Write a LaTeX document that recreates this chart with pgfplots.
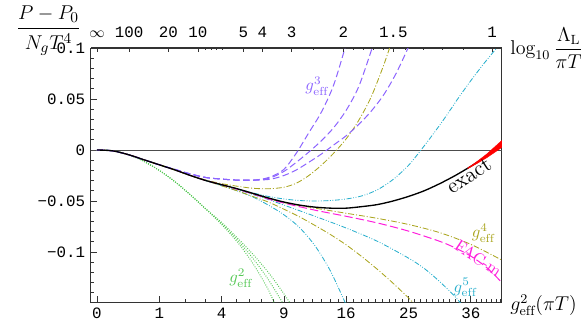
\documentclass[border=0pt]{standalone}
\usepackage{pgfplots}
\pgfplotsset{compat=1.18}
\usepackage{fontspec}
\newfontfamily\tickfont{Liberation Mono}
\definecolor{cpurple}{RGB}{140,100,255}
\definecolor{colive}{RGB}{170,165,30}
\definecolor{ccyan}{RGB}{40,175,205}
\definecolor{cmag}{RGB}{255,30,220}
\definecolor{cgreen}{RGB}{85,200,85}
\begin{document}
\begin{tikzpicture}
\pgfplotsset{
  common/.style={
    scale only axis, width=246.6pt, height=152.4pt,
    xmin=-0.0963, xmax=6.5, ymin=-0.149, ymax=0.1,
    tick align=inside,
    ticklabel style={font=\tickfont\fontsize{9.5}{11}\selectfont},
    tick style={black!80, line width=0.5pt},
  }
}
\begin{axis}[common,
  clip mode=individual,
  axis line style={draw=black!80, line width=0.6pt},
  xtick={0,1,2,3,4,5,6}, xticklabels={0,1,4,9,16,25,36},
  minor xtick={1.41421,1.73205,2.23607,2.44949,2.64575,2.82843,3.16228,3.31662,3.46410,3.60555,3.74166,3.87298,4.12311,4.24264,4.35890,4.47214,4.58258,4.69042,4.79583,4.89898,5.09902,5.19615,5.29150,5.38516,5.47723,5.56776,5.65685,5.74456,5.83095,5.91608,6.08276,6.16441,6.24500,6.32456,6.40312,6.48074},
  ytick={-0.1,-0.05,0,0.05,0.1}, yticklabels={−0.1,−0.05,0,0.05,0.1},
  minor ytick={-0.14,-0.13,-0.12,-0.11,-0.09,-0.08,-0.07,-0.06,-0.04,-0.03,-0.02,-0.01,0.01,0.02,0.03,0.04,0.06,0.07,0.08,0.09},
  xtick pos=bottom, ytick pos=left,
  major tick length=3.6pt, minor tick length=1.8pt,
]
% zero line
\addplot[black!70, line width=0.6pt] coordinates {(-0.0963,0)(6.5,0)};
% g^2 (green dotted)
\addplot[cgreen, line width=0.6pt, dash pattern=on 0.5pt off 0.9pt, smooth] coordinates {(0,0)(0.25,-0.0008)(0.5,-0.0045)(0.75,-0.011)(1.0,-0.020)(1.25,-0.031)(1.5,-0.044)(1.75,-0.058)(2.0,-0.073)(2.25,-0.090)(2.5,-0.111)(2.75,-0.137)(2.9,-0.158)};
\addplot[cgreen, line width=0.6pt, dash pattern=on 0.5pt off 0.9pt, smooth] coordinates {(0,0)(0.25,-0.0008)(0.5,-0.0045)(0.75,-0.011)(1.0,-0.020)(1.25,-0.031)(1.5,-0.044)(1.75,-0.058)(2.0,-0.072)(2.25,-0.088)(2.5,-0.106)(2.75,-0.127)(3.0,-0.152)};
\addplot[cgreen, line width=0.6pt, dash pattern=on 0.5pt off 0.9pt, smooth] coordinates {(0,0)(0.25,-0.0008)(0.5,-0.0045)(0.75,-0.011)(1.0,-0.020)(1.25,-0.031)(1.5,-0.044)(1.75,-0.058)(2.0,-0.071)(2.25,-0.086)(2.5,-0.102)(2.75,-0.120)(3.0,-0.141)(3.2,-0.160)};
% g^5 (cyan dash-dot-dot)
\addplot[ccyan, line width=0.5pt, dash pattern=on 3pt off 1pt on 0.5pt off 1pt on 0.5pt off 1pt, smooth] coordinates {(0,0)(0.25,-0.0008)(0.5,-0.0045)(0.75,-0.0095)(1.0,-0.0145)(1.25,-0.0195)(1.5,-0.025)(1.75,-0.030)(2.0,-0.034)(2.25,-0.038)(2.5,-0.042)(2.75,-0.0455)(3.0,-0.048)(3.25,-0.0495)(3.5,-0.050)(3.75,-0.0495)(4.0,-0.048)(4.25,-0.045)(4.5,-0.039)(4.75,-0.029)(5.0,-0.015)(5.2,0.0)(5.4,0.016)(5.6,0.033)(5.8,0.051)(6.0,0.068)(6.2,0.084)(6.4,0.099)(6.5,0.107)};
\addplot[ccyan, line width=0.5pt, dash pattern=on 3pt off 1pt on 0.5pt off 1pt on 0.5pt off 1pt, smooth] coordinates {(0,0)(0.25,-0.0008)(0.5,-0.0045)(0.75,-0.0095)(1.0,-0.0145)(1.25,-0.0195)(1.5,-0.025)(1.75,-0.030)(2.0,-0.035)(2.25,-0.040)(2.5,-0.046)(2.75,-0.054)(3.0,-0.0635)(3.25,-0.076)(3.5,-0.094)(3.75,-0.119)(4.0,-0.152)};
\addplot[ccyan, line width=0.5pt, dash pattern=on 3pt off 1pt on 0.5pt off 1pt on 0.5pt off 1pt, smooth] coordinates {(0,0)(0.25,-0.0008)(0.5,-0.0045)(0.75,-0.0095)(1.0,-0.0145)(1.25,-0.0195)(1.5,-0.025)(1.75,-0.030)(2.0,-0.034)(2.25,-0.0385)(2.5,-0.0435)(2.75,-0.0485)(3.0,-0.054)(3.5,-0.065)(4.0,-0.0765)(4.5,-0.0895)(5.0,-0.106)(5.25,-0.116)(5.5,-0.129)(5.75,-0.144)(5.9,-0.155)};
% g^4 (olive dash-dot)
\addplot[colive, line width=0.5pt, dash pattern=on 3.5pt off 1.2pt on 0.6pt off 1.2pt, smooth] coordinates {(0,0)(0.25,-0.0008)(0.5,-0.0045)(0.75,-0.0095)(1.0,-0.0145)(1.25,-0.0195)(1.5,-0.025)(1.75,-0.0295)(2.0,-0.033)(2.25,-0.0355)(2.5,-0.0375)(2.75,-0.038)(3.0,-0.0365)(3.2,-0.0325)(3.4,-0.025)(3.6,-0.015)(3.8,-0.003)(4.0,0.011)(4.2,0.029)(4.4,0.052)(4.6,0.083)(4.75,0.11)};
\addplot[colive, line width=0.5pt, dash pattern=on 3.5pt off 1.2pt on 0.6pt off 1.2pt, smooth] coordinates {(0,0)(0.25,-0.0008)(0.5,-0.0045)(0.75,-0.0095)(1.0,-0.0145)(1.25,-0.0195)(1.5,-0.025)(1.75,-0.030)(2.0,-0.034)(2.25,-0.038)(2.5,-0.043)(2.75,-0.0475)(3.0,-0.0515)(3.5,-0.057)(4.0,-0.062)(4.5,-0.067)(5.0,-0.073)(5.5,-0.081)(6.0,-0.0925)(6.5,-0.108)};
\addplot[colive, line width=0.5pt, dash pattern=on 3.5pt off 1.2pt on 0.6pt off 1.2pt, smooth] coordinates {(0,0)(0.25,-0.0008)(0.5,-0.0045)(0.75,-0.0095)(1.0,-0.0145)(1.25,-0.0195)(1.5,-0.025)(1.75,-0.030)(2.0,-0.035)(2.25,-0.040)(2.5,-0.0455)(2.75,-0.051)(3.0,-0.058)(3.25,-0.0655)(3.5,-0.074)(3.75,-0.083)(4.0,-0.093)(4.25,-0.1045)(4.5,-0.117)(4.75,-0.1305)(5.0,-0.145)(5.2,-0.158)};
% FAC-m (magenta dashed)
\addplot[cmag, line width=0.6pt, dash pattern=on 5pt off 2pt, smooth] coordinates {(0,0)(0.25,-0.0008)(0.5,-0.0045)(0.75,-0.0095)(1.0,-0.0145)(1.25,-0.0195)(1.5,-0.025)(1.75,-0.030)(2.0,-0.034)(2.25,-0.0385)(2.5,-0.043)(2.75,-0.048)(3.0,-0.052)(3.5,-0.059)(4.0,-0.065)(4.5,-0.0715)(5.0,-0.0795)(5.5,-0.0895)(5.75,-0.096)(6.0,-0.104)(6.25,-0.115)(6.5,-0.13)};
% g^3 (purple dashed)
\addplot[cpurple, line width=0.6pt, dash pattern=on 4pt off 2pt, smooth] coordinates {(0,0)(0.25,-0.0008)(0.5,-0.0045)(0.75,-0.0095)(1.0,-0.0145)(1.25,-0.019)(1.5,-0.0235)(1.75,-0.027)(2.0,-0.0285)(2.25,-0.0295)(2.5,-0.0295)(2.65,-0.0285)(2.8,-0.026)(3.0,-0.019)(3.2,-0.003)(3.4,0.017)(3.6,0.037)(3.8,0.064)(4.0,0.104)(4.05,0.115)};
\addplot[cpurple, line width=0.6pt, dash pattern=on 4pt off 2pt, smooth] coordinates {(0,0)(0.25,-0.0008)(0.5,-0.0045)(0.75,-0.0095)(1.0,-0.0145)(1.25,-0.019)(1.5,-0.0235)(1.75,-0.027)(2.0,-0.0285)(2.25,-0.0295)(2.5,-0.0295)(2.65,-0.029)(2.8,-0.027)(3.0,-0.021)(3.2,-0.012)(3.4,-0.002)(3.6,0.009)(3.8,0.022)(4.0,0.039)(4.2,0.062)(4.4,0.097)(4.5,0.115)};
\addplot[cpurple, line width=0.6pt, dash pattern=on 4pt off 2pt, smooth] coordinates {(0,0)(0.25,-0.0008)(0.5,-0.0045)(0.75,-0.0095)(1.0,-0.0145)(1.25,-0.019)(1.5,-0.0235)(1.75,-0.027)(2.0,-0.0285)(2.25,-0.0295)(2.5,-0.0295)(2.65,-0.0293)(2.8,-0.0285)(3.0,-0.025)(3.2,-0.0195)(3.4,-0.012)(3.6,-0.004)(3.8,0.005)(4.0,0.014)(4.2,0.025)(4.4,0.038)(4.6,0.054)(4.8,0.075)(5.0,0.101)(5.1,0.115)};
% exact (black) with red band
\addplot[black, line width=0.8pt, smooth] coordinates {(0,0)(0.25,-0.0008)(0.5,-0.0045)(0.75,-0.0095)(1.0,-0.0145)(1.25,-0.0195)(1.5,-0.025)(1.75,-0.030)(2.0,-0.034)(2.25,-0.038)(2.5,-0.0425)(2.75,-0.047)(3.0,-0.051)(3.25,-0.054)(3.5,-0.056)(3.75,-0.057)(4.0,-0.057)(4.25,-0.0555)(4.5,-0.0535)(4.75,-0.050)(5.0,-0.0455)(5.25,-0.040)(5.5,-0.033)(5.75,-0.025)(6.0,-0.016)(6.25,-0.006)(6.5,0.006)};
\addplot[fill=red, draw=red, line width=0.2pt] coordinates {(5.95,-0.0177)(6.1,-0.0112)(6.25,-0.0042)(6.4,0.004)(6.55,0.0123)(6.55,0.0047)(6.4,-0.0016)(6.25,-0.0078)(6.1,-0.0132)(5.95,-0.0183)};
% curve labels
\node[text=cpurple] at (axis cs:3.53,0.0627) {$g^3_{\mathrm{eff}}$};
\node[rotate=33, font=\fontsize{13}{15}\selectfont] at (axis cs:5.97,-0.0255) {exact};
\node[text=colive] at (axis cs:6.2,-0.0814) {$g^4_{\mathrm{eff}}$};
\node[text=cmag, rotate=-34] at (axis cs:6.12,-0.106) {FAC-m};
\node[text=ccyan] at (axis cs:5.91,-0.135) {$g^5_{\mathrm{eff}}$};
\node[text=cgreen] at (axis cs:2.31,-0.1255) {$g^2_{\mathrm{eff}}$};
% axis labels
\node[anchor=west, font=\large, inner sep=0pt] at (rel axis cs:1,0) [xshift=4.8pt, yshift=-1.8pt] {$g^2_{\mathrm{eff}}(\pi T)$};
\node[anchor=west, font=\large, inner sep=0pt] at (rel axis cs:1,1) [xshift=4.8pt] {$\log_{10}\displaystyle\frac{\Lambda_{\mathrm{L}}}{\pi T}$};
\node[font=\fontsize{13}{15}\selectfont, inner sep=0pt] at (rel axis cs:0,1) [xshift=-25.5pt, yshift=10.3pt] {$\displaystyle\frac{P-P_0\rule[-2pt]{0pt}{0pt}}{\rule{0pt}{11.5pt}N_g T^4}$};
\end{axis}
\begin{axis}[common,
  axis x line*=top, axis y line=none,
  axis line style={-, draw=black!80, line width=0.6pt},
  xtick={0,0.514,1.144,1.621,2.348,2.653,3.125,3.953,4.756,6.34},
  xticklabels={$\infty$,100,20,10,5,4,3,2,1.5,1},
  minor xtick={1.734,1.830,1.921,2.018,3.467,4.109,4.270,4.430,4.591,4.944,5.233,5.538,5.875},
  major tick length=2.6pt, minor tick length=1.5pt,
  xticklabel style={yshift=2.5pt},
]
\end{axis}
\pgfresetboundingbox
\useasboundingbox (-54.6pt,-15pt) rectangle (294pt,181.2pt);
\end{tikzpicture}
\end{document}
